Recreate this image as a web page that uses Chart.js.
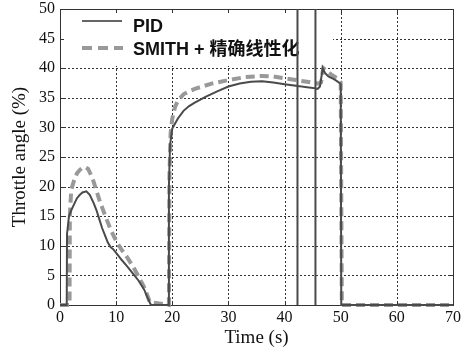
<!DOCTYPE html>
<html>
<head>
<meta charset="utf-8">
<script src="https://cdn.jsdelivr.net/npm/chart.js@4"></script>
<style>
  html, body { margin: 0; padding: 0; background: #fff; }
  #wrap { width: 462px; height: 352px; }
</style>
</head>
<body>
<div id="wrap"><canvas id="chart"></canvas></div>
<script>
// PID response (time in s, throttle angle in %)
const pidTime = [0, 1.2, 1.25, 1.6, 2.0, 2.5, 3, 3.5, 4, 4.7, 5.3, 6, 6.5, 7, 7.5, 8, 8.5, 9, 9.5, 10,
  11, 12, 13, 14, 15, 15.8, 16.2, 19.3, 19.4, 19.6, 20, 21, 22, 23, 24, 25, 26, 28, 30, 32, 34, 36, 38, 40,
  42.3, 42.3, 42.3, 42.3, 44, 45.5, 45.5, 45.5, 45.5, 45.9, 46.3, 46.8, 47.2, 47.8, 48.5, 49.2, 49.8, 50, 50.1, 70];
const pidValue = [0, 0, 12, 15, 16, 17, 18, 18.6, 19, 19.2, 18.6, 17.2, 16, 14.5, 13, 11.8, 10.6, 9.8, 9.4, 8.8,
  7.6, 6.5, 5.3, 4.1, 2.6, 0.8, 0, 0, 20, 27, 29.8, 31.5, 32.8, 33.6, 34.2, 34.7, 35.2, 36.1, 36.9, 37.4, 37.7, 37.8, 37.6, 37.3,
  37.0, 50, 0, 37.0, 36.8, 36.6, 50, 0, 36.6, 36.5, 36.9, 40, 39.2, 38.6, 38.3, 37.9, 37.5, 37.3, 0, 0];

// SMITH + exact linearization response
const smithTime = [0, 1.7, 1.75, 2.0, 2.5, 3, 3.5, 4, 4.5, 5, 5.5, 6, 6.5, 7, 7.5, 8, 8.5, 9, 10, 11, 12, 13,
  14, 15, 15.5, 16, 19.4, 19.5, 19.7, 20, 20.5, 21, 22, 23, 24, 25, 27, 30, 33, 36, 38, 40, 42, 44, 46,
  46.5, 46.9, 47.5, 48.5, 49.5, 50, 50.2, 70];
const smithValue = [0, 0, 15, 19.5, 21, 22.2, 22.8, 23.2, 23.3, 23, 22, 20.8, 19.3, 17.8, 16.5, 15.2, 14, 12.8, 10.8, 9.3, 8, 6.5,
  4.8, 3, 1.8, 0.5, 0, 22, 29, 31.5, 33.5, 34.5, 35.6, 36.1, 36.5, 36.8, 37.4, 38.0, 38.5, 38.7, 38.6, 38.3, 38.0, 37.7, 37.4,
  37.6, 40, 39.5, 38.8, 38.2, 37.6, 0, 0];

const seriesNames = ['PID', 'SMITH + 精确线性化'];
const xTicks = [0, 10, 20, 30, 40, 50, 60, 70];
const yTicks = [0, 5, 10, 15, 20, 25, 30, 35, 40, 45, 50];

const toPoints = (xs, ys) => xs.map((x, i) => ({ x: x, y: ys[i] }));

const serif = "'Liberation Serif', 'Times New Roman', serif";

// MATLAB-style dotted grid, frame, inward ticks and in-axes legend
const matlabAxes = {
  id: 'matlabAxes',
  beforeDatasetsDraw(chart) {
    const { ctx, scales } = chart;
    const xs = scales.x, ys = scales.y;
    // box edges taken from the scales themselves
    const L = Math.round(xs.getPixelForValue(xTicks[0]));
    const R = Math.round(xs.getPixelForValue(xTicks[xTicks.length - 1]));
    const T = Math.round(ys.getPixelForValue(yTicks[yTicks.length - 1]));
    const B = Math.round(ys.getPixelForValue(yTicks[0]));
    ctx.save();

    // dotted grid (1px dots, 2 on / 2 off)
    ctx.fillStyle = '#333';
    xTicks.slice(1, -1).forEach(v => {
      const px = Math.round(xs.getPixelForValue(v));
      for (let y = T; y < B; y += 4) ctx.fillRect(px, y, 1, 2);
    });
    yTicks.slice(1, -1).forEach(v => {
      const py = Math.round(ys.getPixelForValue(v));
      for (let x = L; x < R; x += 4) ctx.fillRect(x, py, 2, 1);
    });

    // legend box hides the grid behind it
    ctx.fillStyle = '#fff';
    ctx.fillRect(L + 1, T + 1, 272, 56);

    // frame and inward tick marks
    ctx.fillStyle = '#333';
    ctx.fillRect(L, T, R - L, 1);
    ctx.fillRect(L, B, R - L + 1, 1);
    ctx.fillRect(L, T, 1, B - T);
    ctx.fillRect(R, T, 1, B - T + 1);
    xTicks.forEach(v => {
      const px = Math.round(xs.getPixelForValue(v));
      ctx.fillRect(px, B - 4, 1, 4);
      ctx.fillRect(px, T, 1, 4);
    });
    yTicks.forEach(v => {
      const py = Math.round(ys.getPixelForValue(v));
      ctx.fillRect(L, py, 4, 1);
      ctx.fillRect(R - 4, py, 4, 1);
    });

    // legend entries
    ctx.strokeStyle = '#666';
    ctx.lineWidth = 2;
    ctx.beginPath();
    ctx.moveTo(L + 22, T + 12); ctx.lineTo(L + 62, T + 12);
    ctx.stroke();
    ctx.strokeStyle = '#999';
    ctx.lineWidth = 4;
    ctx.setLineDash([10, 6]);
    ctx.beginPath();
    ctx.moveTo(L + 22, T + 39); ctx.lineTo(L + 63, T + 39);
    ctx.stroke();
    ctx.setLineDash([]);

    ctx.fillStyle = '#111';
    ctx.textBaseline = 'alphabetic';
    ctx.font = "bold 18px 'Liberation Sans', Arial, 'Noto Sans CJK SC', sans-serif";
    ctx.fillText(seriesNames[0], L + 73, T + 22.5);
    ctx.fillText(seriesNames[1], L + 73, T + 46);
    ctx.restore();
  }
};

new Chart(document.getElementById('chart'), {
  type: 'line',
  data: {
    datasets: [
      {
        label: seriesNames[0],
        data: toPoints(pidTime, pidValue),
        borderColor: '#4a4a4a',
        borderWidth: 2,
        pointRadius: 0,
        tension: 0,
        clip: false
      },
      {
        label: seriesNames[1],
        data: toPoints(smithTime, smithValue),
        borderColor: '#999',
        borderWidth: 4,
        borderDash: [9, 5],
        pointRadius: 0,
        tension: 0,
        clip: false
      }
    ]
  },
  options: {
    responsive: true,
    maintainAspectRatio: false,
    animation: false,
    layout: { padding: { left: 0, right: 9, top: 9, bottom: 0 } },
    plugins: {
      legend: { display: false },
      tooltip: { enabled: false }
    },
    scales: {
      x: {
        type: 'linear',
        min: 0,
        max: 70,
        afterBuildTicks: (scale) => { scale.ticks = xTicks.map(v => ({ value: v })); },
        afterFit: (scale) => {
          scale.height = 47;
          scale.paddingLeft = 0;
          scale.paddingRight = 0;
        },
        grid: { display: false, drawTicks: false },
        border: { display: false },
        ticks: { color: '#111', padding: 3, maxRotation: 0, font: { family: serif, size: 16 } },
        title: {
          display: true,
          text: 'Time (s)',
          color: '#111',
          font: { family: serif, size: 19 },
          padding: { top: 0, bottom: 3 }
        }
      },
      y: {
        min: 0,
        max: 50,
        afterBuildTicks: (scale) => { scale.ticks = yTicks.map(v => ({ value: v })); },
        afterFit: (scale) => {
          scale.width = 60;
          scale.paddingTop = 0;
          scale.paddingBottom = 0;
        },
        grid: { display: false, drawTicks: false },
        border: { display: false },
        ticks: { color: '#111', padding: 5, font: { family: serif, size: 16 } },
        title: {
          display: true,
          text: 'Throttle angle (%)',
          color: '#111',
          font: { family: serif, size: 19 },
          padding: { top: 9, bottom: 0 }
        }
      }
    }
  },
  plugins: [matlabAxes]
});
</script>
</body>
</html>
